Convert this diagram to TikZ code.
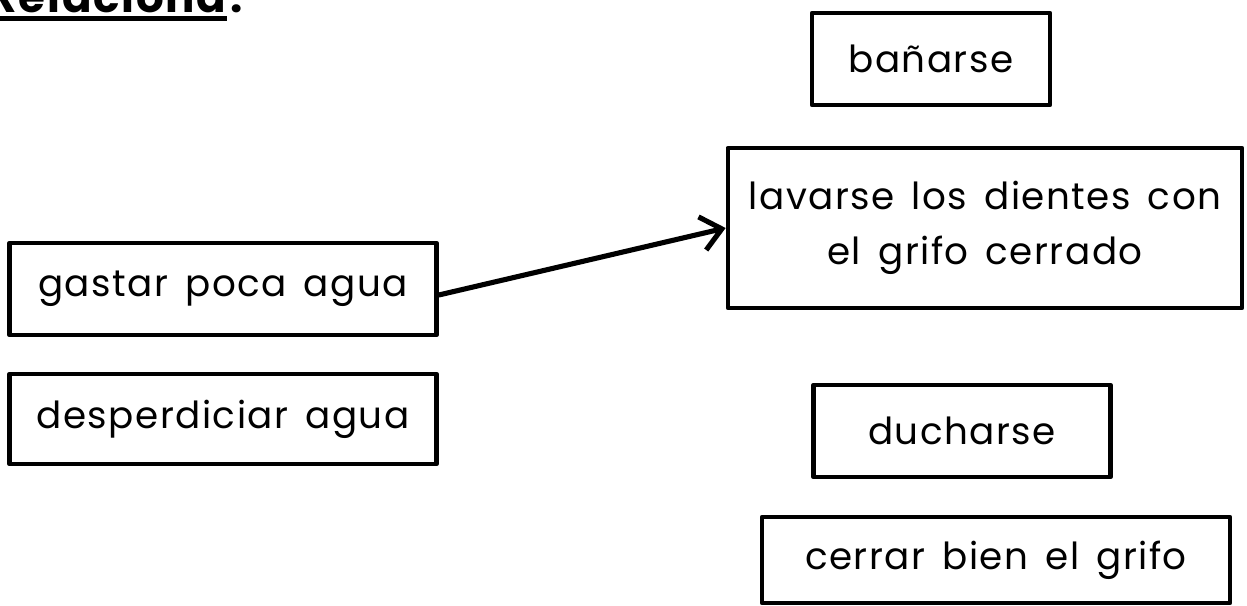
\documentclass[tikz,border=0pt]{standalone}
\usepackage{fontspec}
\setmainfont{Poppins}[LetterSpace=4,WordSpace=1.5]
\usetikzlibrary{arrows.meta}

\begin{document}
\begin{tikzpicture}[x=0.01cm,y=-0.01cm,auto,
    box/.style={draw,rectangle,line width=1.25pt,line join=round,align=center,
        inner sep=0pt,font=\fontsize{10.6}{15.8}\selectfont}]
    \useasboundingbox (0,0) rectangle (1247,606);

        % titulo (cortado arriba)
        \node[anchor=base west,inner sep=0pt,font=\bfseries\fontsize{12.4}{13}\selectfont] (Titulo) at (-12,12) {Relaciona};
        \node[anchor=base west,inner sep=0pt,font=\bfseries\fontsize{12.4}{13}\selectfont] (Dos) at ([xshift=0.03cm]Titulo.base east) {:};
        \draw[line width=1.4pt] ([yshift=-0.065cm]Titulo.base west) -- ([yshift=-0.065cm]Titulo.base east);

        % columna izquierda
        \node[box,minimum width=4.27cm,minimum height=0.92cm] (Gastar) at (223,289) {gastar poca agua};
        \node[box,minimum width=4.27cm,minimum height=0.90cm] (Desp) [below of=Gastar, node distance=1.3cm] {desperdiciar agua};

        % columna derecha
        \node[box,minimum width=2.38cm,minimum height=0.92cm] (Banar) at (931,59) {bañarse};
        \node[box,minimum width=5.14cm,minimum height=1.60cm] (Lavar) at (985,228) {lavarse los dientes con\\el grifo cerrado};
        \node[box,minimum width=2.97cm,minimum height=0.92cm] (Duchar) at (962,431) {ducharse};
        \node[box,minimum width=4.68cm,minimum height=0.86cm] (Cerrar) at (996,560) {cerrar bien el grifo};

        \draw[-{Straight Barb[length=0.2cm,width=0.34cm]},line width=1.45pt,line cap=round]
            ([yshift=-0.06cm]Gastar.east) -- (Lavar.west);
\end{tikzpicture}
\end{document}
